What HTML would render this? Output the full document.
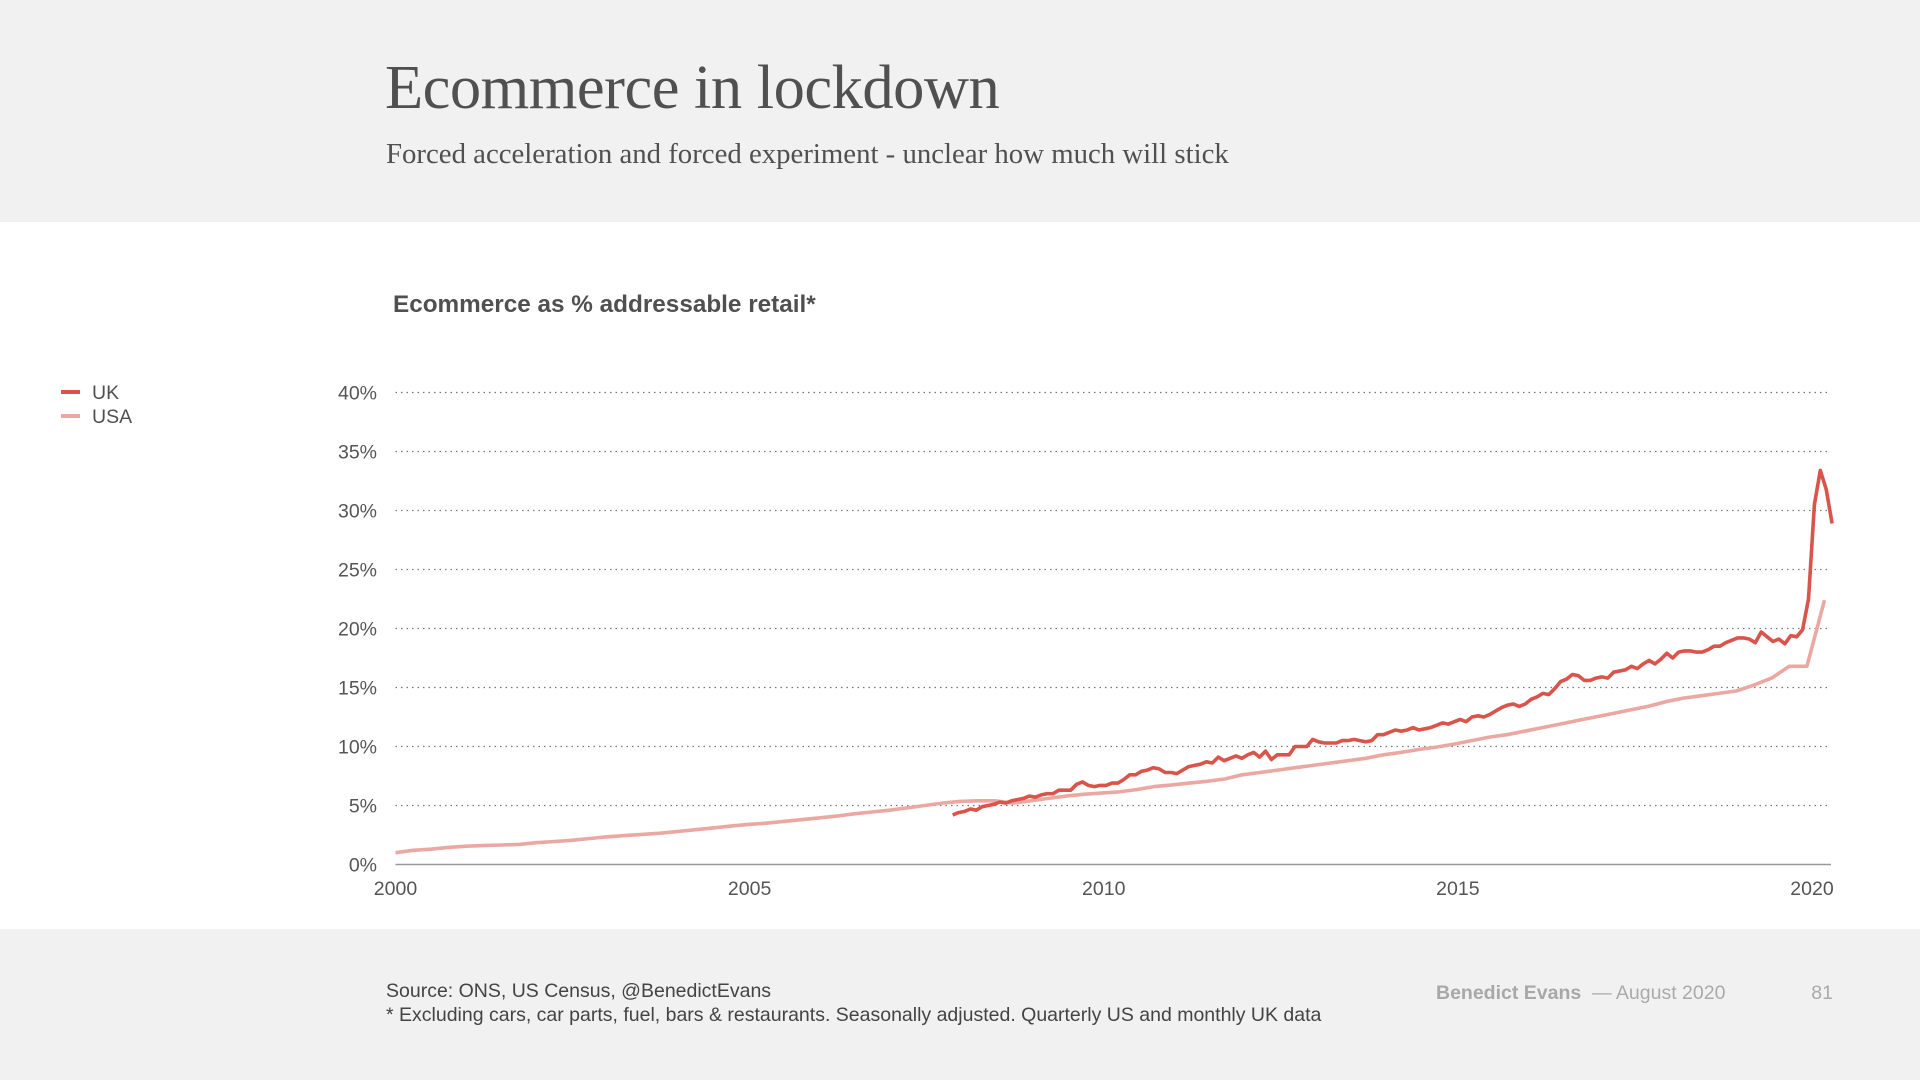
<!DOCTYPE html>
<html><head><meta charset="utf-8">
<style>
html,body{margin:0;padding:0}
body{width:1920px;height:1080px;position:relative;background:#fff;font-family:"Liberation Sans",sans-serif;overflow:hidden}
.hdr{position:absolute;left:0;top:0;width:1920px;height:222px;background:#f1f1f1}
.ftr{position:absolute;left:0;top:929px;width:1920px;height:151px;background:#f1f1f1}
.title{position:absolute;left:385px;top:51px;font-family:"Liberation Serif",serif;font-size:62.5px;color:#505050;letter-spacing:-0.5px;white-space:nowrap}
.sub{position:absolute;left:386px;top:138px;font-family:"Liberation Serif",serif;font-size:28.8px;color:#505050;white-space:nowrap}
.ctitle{position:absolute;left:393px;top:291px;font-size:24.3px;font-weight:bold;color:#505050;white-space:nowrap}
.src{position:absolute;left:386px;top:979px;font-size:19.5px;color:#444;line-height:24px;white-space:nowrap}
.brand{position:absolute;left:1436px;top:982px;font-size:19.5px;color:#aaa;white-space:nowrap}
.brand b{color:#a8a8a8}
.pg{position:absolute;right:87px;top:982px;font-size:19.5px;color:#aaa}
.leg{position:absolute;left:61px;font-size:19.5px;color:#505050;white-space:nowrap}
.leg i{display:inline-block;width:19px;height:4px;vertical-align:middle;margin-right:12px;position:relative;top:-2px}
svg{position:absolute;left:0;top:0}
</style></head><body>
<div class="hdr"></div>
<div class="ftr"></div>
<div class="title">Ecommerce in lockdown</div>
<div class="sub">Forced acceleration and forced experiment - unclear how much will stick</div>
<div class="ctitle">Ecommerce as % addressable retail*</div>
<div class="leg" style="top:382px"><i style="background:#d9544a"></i>UK</div>
<div class="leg" style="top:406px"><i style="background:#eba8a2"></i>USA</div>
<div class="src">Source: ONS, US Census, @BenedictEvans<br>* Excluding cars, car parts, fuel, bars &amp; restaurants. Seasonally adjusted. Quarterly US and monthly UK data</div>
<div class="brand"><b>Benedict Evans</b> &nbsp;— August 2020</div>
<div class="pg">81</div>
<svg id="chart" width="1920" height="1080"></svg>
<script>
const yTicks = [0,5,10,15,20,25,30,35,40];
const yTickLabels = ["0%","5%","10%","15%","20%","25%","30%","35%","40%"];
const xTicks = [2000,2005,2010,2015,2020];
const xTickLabels = ["2000","2005","2010","2015","2020"];
const usaStart = 2000, usaStep = 0.2491;
const usaValues = [1.0,1.2,1.3,1.45, 1.55,1.6,1.65,1.7, 1.85,1.95,2.05,2.2, 2.35,2.45,2.55,2.65, 2.8,2.95,3.1,3.25,
 3.4,3.5,3.65,3.8, 3.95,4.1,4.3,4.45, 4.6,4.8,5.0,5.2, 5.35,5.4,5.4,5.2, 5.4,5.6,5.8,5.95,
 6.05,6.15,6.35,6.6, 6.75,6.9,7.05,7.25, 7.6,7.8,8.0,8.2, 8.4,8.6,8.8,9.0, 9.3,9.5,9.75,9.95,
 10.2,10.5,10.8,11.0, 11.3,11.6,11.9,12.2, 12.5,12.8,13.1,13.4, 13.8,14.1,14.3,14.5, 14.7,15.2,15.8,16.8, 16.8,22.4];
const ukStart = 2007 + 10.4/12, ukStep = 1/12;
const ukValues = [4.2,4.4,
 4.5,4.7,4.6,4.9,5.0,5.1,5.3,5.2,5.4,5.5,5.6,5.8,
 5.7,5.9,6.0,6.0,6.3,6.3,6.3,6.8,7.0,6.7,6.6,6.7,
 6.7,6.9,6.9,7.2,7.6,7.6,7.9,8.0,8.2,8.1,7.8,7.8,
 7.7,8.0,8.3,8.4,8.5,8.7,8.6,9.1,8.8,9.0,9.2,9.0,
 9.3,9.5,9.1,9.6,8.9,9.3,9.3,9.3,10.0,10.0,10.0,10.6,
 10.4,10.3,10.3,10.3,10.5,10.5,10.6,10.5,10.4,10.5,11.0,11.0,
 11.2,11.4,11.3,11.4,11.6,11.4,11.5,11.6,11.8,12.0,11.9,12.1,
 12.3,12.1,12.5,12.6,12.5,12.7,13.0,13.3,13.5,13.6,13.4,13.6,
 14.0,14.2,14.5,14.4,14.9,15.5,15.7,16.1,16.0,15.6,15.6,15.8,
 15.9,15.8,16.3,16.4,16.5,16.8,16.6,17.0,17.3,17.0,17.4,17.9,
 17.5,18.0,18.1,18.1,18.0,18.0,18.2,18.5,18.5,18.8,19.0,19.2,
 19.2,19.1,18.8,19.7,19.3,18.9,19.1,18.7,19.4,19.3,19.9,22.5,
 30.5,33.4,31.8,28.9];

const X0=395.5, X1=1812, Y0=864.5, Y1=392.5, PR=1831;
const xs = v => X0 + (v-2000)*(X1-X0)/20;
const ys = v => Y0 - v*(Y0-Y1)/40;
const NS="http://www.w3.org/2000/svg";
const svg=document.getElementById('chart');
function mk(t,a){const e=document.createElementNS(NS,t);for(const k in a)e.setAttribute(k,a[k]);svg.appendChild(e);return e;}
yTicks.forEach((t,i)=>{
  if(t>0){const g=mk('line',{x1:X0,x2:PR,y1:ys(t),y2:ys(t),stroke:'#777','stroke-width':1.2,'stroke-dasharray':'1.5 4'});
  
  }
  const l=mk('text',{x:377,y:ys(t)+7,'text-anchor':'end','font-size':19.5,fill:'#555','font-family':'Liberation Sans, sans-serif'});
  l.textContent=yTickLabels[i];
  
  
});
const ax=mk('line',{x1:X0,x2:PR,y1:Y0,y2:Y0,stroke:'#999','stroke-width':1.5});


xTicks.forEach((t,i)=>{
  const l=mk('text',{x:xs(t),y:895,'text-anchor':'middle','font-size':19.5,fill:'#555','font-family':'Liberation Sans, sans-serif'});
  l.textContent=xTickLabels[i];
  
  
});
function path(vals,start,step){return vals.map((v,i)=>(i?'L':'M')+xs(start+i*step).toFixed(1)+','+ys(v).toFixed(1)).join('');}
const us=mk('path',{d:path(usaValues,usaStart,usaStep),fill:'none',stroke:'#eba8a2','stroke-width':3.6,'stroke-linejoin':'round'});


const uk=mk('path',{d:path(ukValues,ukStart,ukStep),fill:'none',stroke:'#d9544a','stroke-width':3.6,'stroke-linejoin':'round'});


</script>
</body></html>
